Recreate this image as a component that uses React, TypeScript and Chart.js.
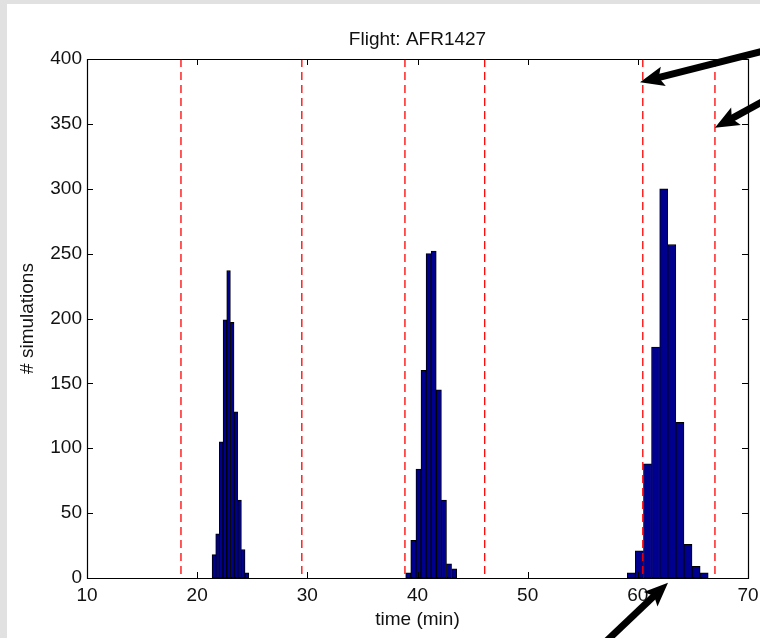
import React, { useEffect, useRef } from "react";
import { Chart, registerables } from "chart.js";

Chart.register(...registerables);

// ---- Text ----
const titleText = "Flight: AFR1427";
const xAxisLabel = "time (min)";
const yAxisLabel = "# simulations";

// ---- Axes ----
const xTicks = [10, 20, 30, 40, 50, 60, 70];
const yTicks = [0, 50, 100, 150, 200, 250, 300, 350, 400];

// ---- Histogram cluster 1 ----
const binCenters1 = [21.52, 21.85, 22.18, 22.52, 22.85, 23.18, 23.52, 23.85, 24.18, 24.52];
const counts1 = [18, 34, 105, 199, 237, 197, 128, 60, 22, 4];
const binWidth1 = 0.333;

// ---- Histogram cluster 2 ----
const binCenters2 = [39.16, 39.62, 40.09, 40.55, 41.01, 41.47, 41.94, 42.4, 42.86, 43.33];
const counts2 = [4, 29, 84, 160, 250, 252, 145, 60, 11, 7];
const binWidth2 = 0.463;

// ---- Histogram cluster 3 ----
const binCenters3 = [59.41, 60.14, 60.88, 61.61, 62.35, 63.08, 63.82, 64.55, 65.29, 66.02];
const counts3 = [4, 21, 88, 178, 300, 257, 120, 26, 9, 4];
const binWidth3 = 0.735;

// ---- Red dashed boundary lines (time, min) ----
const boundaryTimes = [18.53, 29.5, 38.86, 46.1, 60.45, 67.0];

// ---- Annotation arrows: tip in data coords, direction toward tail (deg) ----
const arrowTipX = [60.2, 67.0, 62.74];
const arrowTipY = [382, 347, -3.6];
const arrowAngles = [-14.3, -28.8, 136.5];

const FONT = '"Liberation Sans", Arial, Helvetica, sans-serif';
const TEXT_COLOR = "#111";

const clusters = [
  { centers: binCenters1, counts: counts1, width: binWidth1 },
  { centers: binCenters2, counts: counts2, width: binWidth2 },
  { centers: binCenters3, counts: counts3, width: binWidth3 },
];

const matlabAxesPlugin = {
  id: "matlabAxes",
  afterDraw(chart: any) {
    const { ctx, chartArea, scales } = chart;
    const { left, right, top, bottom } = chartArea;
    const x = scales.x;
    const y = scales.y;
    const tl = 6;
    ctx.save();
    ctx.strokeStyle = "#000";
    ctx.lineWidth = 1.2;
    ctx.beginPath();
    ctx.rect(Math.round(left) + 0.5, Math.round(top) + 0.5, Math.round(right - left), Math.round(bottom - top));
    ctx.stroke();
    ctx.lineWidth = 1;
    ctx.beginPath();
    xTicks.forEach((v) => {
      const px = Math.round(x.getPixelForValue(v)) + 0.5;
      ctx.moveTo(px, bottom);
      ctx.lineTo(px, bottom - tl);
      ctx.moveTo(px, top);
      ctx.lineTo(px, top + tl);
    });
    yTicks.forEach((v) => {
      const py = Math.round(y.getPixelForValue(v)) + 0.5;
      ctx.moveTo(left, py);
      ctx.lineTo(left + tl, py);
      ctx.moveTo(right, py);
      ctx.lineTo(right - tl, py);
    });
    ctx.stroke();
    ctx.restore();
  },
};

const arrowPlugin = {
  id: "arrows",
  afterDraw(chart: any) {
    const { ctx, scales } = chart;
    const x = scales.x;
    const y = scales.y;
    ctx.save();
    ctx.fillStyle = "#000";
    ctx.strokeStyle = "#000";
    arrowTipX.forEach((ax, i) => {
      const tx = x.getPixelForValue(ax);
      const ty = y.getPixelForValue(arrowTipY[i]);
      const ang = (arrowAngles[i] * Math.PI) / 180;
      const dx = Math.cos(ang);
      const dy = Math.sin(ang);
      const headLen = 24;
      const headHalf = 10;
      const len = 220;
      ctx.lineWidth = 7;
      ctx.lineCap = "butt";
      ctx.beginPath();
      ctx.moveTo(tx + dx * headLen * 0.7, ty + dy * headLen * 0.7);
      ctx.lineTo(tx + dx * len, ty + dy * len);
      ctx.stroke();
      const bx = tx + dx * headLen;
      const by = ty + dy * headLen;
      const nx = tx + dx * headLen * 0.8;
      const ny = ty + dy * headLen * 0.8;
      const px = -dy;
      const py = dx;
      ctx.beginPath();
      ctx.moveTo(tx, ty);
      ctx.lineTo(bx + px * headHalf, by + py * headHalf);
      ctx.lineTo(nx, ny);
      ctx.lineTo(bx - px * headHalf, by - py * headHalf);
      ctx.closePath();
      ctx.fill();
    });
    ctx.restore();
  },
};

export default function App() {
  const canvasRef = useRef<HTMLCanvasElement | null>(null);

  useEffect(() => {
    if (!canvasRef.current) return;
    const barDatasets = clusters.map((c) => ({
      type: "bar" as const,
      data: c.centers.map((cx, i) => ({ x: cx, y: c.counts[i] })),
      backgroundColor: "rgb(0,0,143)",
      borderColor: "#000",
      borderWidth: 1,
      borderSkipped: false,
      grouped: false,
      barThickness: (ctx: any) => {
        const s = ctx.chart.scales.x;
        return Math.abs(s.getPixelForValue(c.width) - s.getPixelForValue(0));
      },
      order: 2,
    }));
    const lineDatasets = boundaryTimes.map((t) => ({
      type: "line" as const,
      data: [
        { x: t, y: 400 },
        { x: t, y: 0 },
      ],
      borderColor: "rgb(255,0,0)",
      borderWidth: 1.3,
      borderDash: [8, 5],
      pointRadius: 0,
      fill: false,
      tension: 0,
      order: 1,
    }));

    const chart = new Chart(canvasRef.current, {
      type: "bar",
      data: { datasets: [...barDatasets, ...lineDatasets] as any },
      options: {
        animation: false,
        responsive: false,
        events: [],
        layout: { padding: { left: 0, right: 12, top: 0, bottom: 0 } },
        plugins: {
          legend: { display: false },
          tooltip: { enabled: false },
          title: {
            display: true,
            text: titleText,
            color: TEXT_COLOR,
            font: { family: FONT, size: 19, weight: "normal" },
            padding: { top: 28.6, bottom: 7.6 },
            fullSize: false,
          },
        },
        scales: {
          x: {
            type: "linear",
            min: 10,
            max: 70,
            offset: false,
            grid: { display: false, drawTicks: false },
            border: { display: false },
            afterBuildTicks: (s: any) => {
              s.ticks = xTicks.map((v) => ({ value: v }));
            },
            afterFit: (s: any) => {
              s.height = 60;
              s.paddingLeft = 0;
              s.paddingRight = 0;
            },
            ticks: {
              color: TEXT_COLOR,
              font: { family: FONT, size: 19 },
              padding: 6,
              maxRotation: 0,
              autoSkip: false,
            },
            title: {
              display: true,
              text: xAxisLabel,
              color: TEXT_COLOR,
              font: { family: FONT, size: 19 },
              padding: { top: 0, bottom: 6.6 },
            },
          },
          y: {
            type: "linear",
            min: 0,
            max: 400,
            grid: { display: false, drawTicks: false },
            border: { display: false },
            afterBuildTicks: (s: any) => {
              s.ticks = yTicks.map((v) => ({ value: v }));
            },
            afterFit: (s: any) => {
              s.width = 87;
              s.paddingTop = 0;
              s.paddingBottom = 0;
            },
            ticks: {
              color: TEXT_COLOR,
              font: { family: FONT, size: 19 },
              padding: 5,
              autoSkip: false,
            },
            title: {
              display: true,
              text: yAxisLabel,
              color: TEXT_COLOR,
              font: { family: FONT, size: 19 },
              padding: { top: 16.6, bottom: 0 },
            },
          },
        },
      },
      plugins: [matlabAxesPlugin, arrowPlugin],
    });
    return () => chart.destroy();
  }, []);

  return (
    <div
      style={{
        position: "fixed",
        left: 0,
        top: 0,
        width: 760,
        height: 638,
        background: "#e1e1e1",
        overflow: "hidden",
      }}
    >
      <div
        style={{
          position: "absolute",
          left: 7,
          top: 4,
          right: 0,
          bottom: 0,
          background: "#ffffff",
        }}
      />
      <canvas
        ref={canvasRef}
        width={760}
        height={638}
        style={{ position: "absolute", left: 0, top: 0, width: 760, height: 638 }}
      />
    </div>
  );
}
